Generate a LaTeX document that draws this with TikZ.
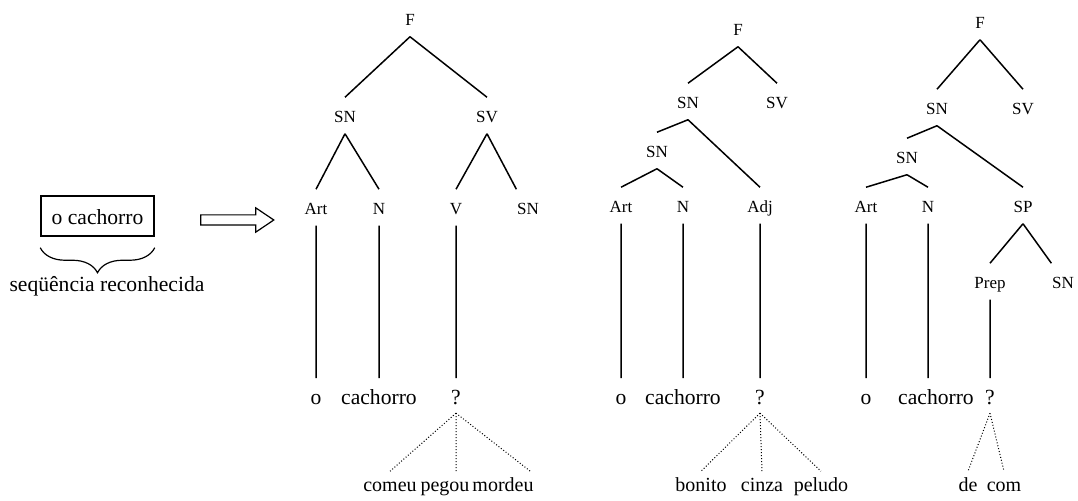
\documentclass[tikz,border=0pt]{standalone}
\usepackage{fontspec}
\setmainfont{Liberation Serif}
\usetikzlibrary{shapes.arrows}
\usetikzlibrary{decorations.pathreplacing}

\begin{document}
\begin{tikzpicture}
[x=0.5pt,y=-0.5pt,line width=0.75pt,%
  cat/.style={anchor=base,inner sep=0pt,font=\fontsize{8.5}{10}\selectfont,
    text height=1.25em,text depth=0.5em},
  word/.style={anchor=base,inner sep=0pt,font=\fontsize{10.8}{13}\selectfont,
    text height=1.3em,text depth=0.37em},
  guess/.style={anchor=base,inner sep=0pt,font=\fontsize{10}{12}\selectfont,
    text height=1em,text depth=0pt},
  dots/.style={line width=0.5pt,dash pattern=on 0.5pt off 1pt}]
\useasboundingbox (0,0) rectangle (1078,501);

\node[draw,inner sep=0pt,font=\fontsize{10.8}{13}\selectfont,text height=0.9em,
  minimum width=56.5pt,minimum height=20pt] (seen) at (97.5,216) {o cachorro};
\draw[line width=0.6pt,decorate,decoration={brace,amplitude=12.5pt}]
  ([yshift=-5.5pt]seen.south east) -- ([yshift=-5.5pt]seen.south west);
\node[word,text height=0.7em,text depth=0pt] (recog) at (107,292) {seqüência reconhecida};
\node[single arrow,draw,line width=0.6pt,inner xsep=0pt,inner ysep=2.25pt,
  minimum height=36.5pt,single arrow head extend=3.5pt,single arrow tip angle=68]
  (then) at (233.5,220) {};

% F -> SN SV, verbo desconhecido
\node[cat] (F1) at (410,26) {F};
\node[cat] (SN1) at (345,123) {SN};
\node[cat] (SV1) at (487,123) {SV};
\node[cat] (Art1) at (316,215) {Art};
\node[cat] (N1) at (379,215) {N};
\node[cat] (V1) at (456,215) {V};
\node[cat] (SNv1) at (528,215) {SN};
\node[word] (o1) at (316,405) {o};
\node[word] (cachorro1) at (379,405) {cachorro};
\node[word] (q1) at (456,405) {?};
\node[guess] (comeu) at (390,492) {comeu};
\node[guess] (pegou) at (445,492) {pegou};
\node[guess] (mordeu) at (503,492) {mordeu};
\draw (F1.south) -- (SN1.north) (F1.south) -- (SV1.north)
  (SN1.south) -- (Art1.north) (SN1.south) -- (N1.north)
  (SV1.south) -- (V1.north) (SV1.south) -- (SNv1.north west)
  (Art1.south) -- (o1.north) (N1.south) -- (cachorro1.north)
  (V1.south) -- (q1.north);
\draw[dots] (q1.south) -- (comeu.north) (q1.south) -- (q1.south |- pegou.north)
  (q1.south) -- ([xshift=-2pt]mordeu.north east);

% SN -> SN Adj
\node[cat] (F2) at (738,36) {F};
\node[cat] (SN2) at (688,109) {SN};
\node[cat] (SV2) at (777,109) {SV};
\node[cat] (SNa2) at (657,158) {SN};
\node[cat] (Art2) at (621,213) {Art};
\node[cat] (N2) at (683,213) {N};
\node[cat] (Adj2) at (760,213) {Adj};
\node[word] (o2) at (621,405) {o};
\node[word] (cachorro2) at (683,405) {cachorro};
\node[word] (q2) at (760,405) {?};
\node[guess] (bonito) at (701,492) {bonito};
\node[guess] (cinza) at (762,492) {cinza};
\node[guess] (peludo) at (821,492) {peludo};
\draw (F2.south) -- (SN2.north) (F2.south) -- (SV2.north)
  (SN2.south) -- (SNa2.north) (SN2.south) -- (Adj2.north)
  (SNa2.south) -- (Art2.north) (SNa2.south) -- (N2.north)
  (Art2.south) -- (o2.north) (N2.south) -- (cachorro2.north)
  (Adj2.south) -- (q2.north);
\draw[dots] (q2.south) -- (bonito.north) (q2.south) -- (cinza.north)
  (q2.south) -- (peludo.north);

% SN -> SN SP
\node[cat] (F3) at (980,29) {F};
\node[cat] (SN3) at (937,115) {SN};
\node[cat] (SV3) at (1023,115) {SV};
\node[cat] (SNa3) at (907,164) {SN};
\node[cat] (Art3) at (866,213) {Art};
\node[cat] (N3) at (928,213) {N};
\node[cat] (SP3) at (1023,213) {SP};
\node[cat] (Prep3) at (990,289) {Prep};
\node[cat] (SNp3) at (1063,289) {SN};
\node[word] (o3) at (866,405) {o};
\node[word] (cachorro3) at (936,405) {cachorro};
\node[word] (q3) at (990,405) {?};
\node[guess] (de) at (968,492) {de};
\node[guess] (com) at (1004,492) {com};
\draw (F3.south) -- (SN3.north) (F3.south) -- (SV3.north)
  (SN3.south) -- (SNa3.north) (SN3.south) -- (SP3.north)
  (SNa3.south) -- (Art3.north) (SNa3.south) -- (N3.north)
  (SP3.south) -- (Prep3.north) (SP3.south) -- (SNp3.north west)
  (Art3.south) -- (o3.north) (N3.south) -- (N3.south |- cachorro3.north)
  (Prep3.south) -- (q3.north);
\draw[dots] (q3.south) -- (de.north) (q3.south) -- (com.north);
\end{tikzpicture}
\end{document}
